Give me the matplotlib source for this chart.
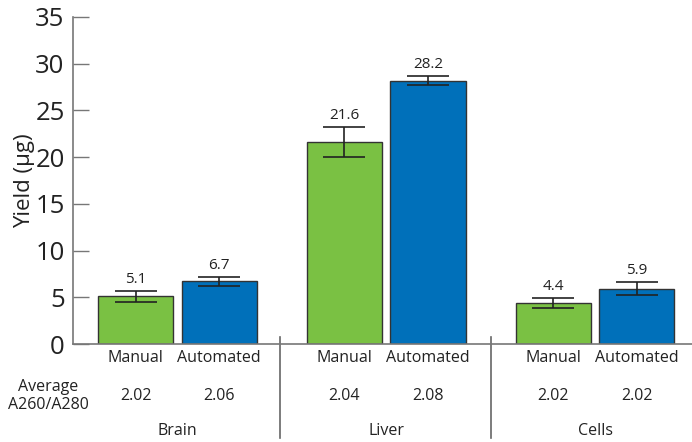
import matplotlib.pyplot as plt

plt.rcParams['font.family'] = ['Open Sans', 'DejaVu Sans']

groups = ["Brain", "Liver", "Cells"]
methods = ["Manual", "Automated"]
yields = [5.1, 6.7, 21.6, 28.2, 4.4, 5.9]
errors = [0.6, 0.5, 1.6, 0.5, 0.5, 0.7]
ratios = ["2.02", "2.06", "2.04", "2.08", "2.02", "2.02"]
positions = [0, 1, 2.5, 3.5, 5, 6]
colors = ["#7ac143", "#0070ba"] * 3

fig = plt.figure(figsize=(6.92, 4.42), dpi=100)
ax = fig.add_axes([73 / 692, 1 - 344 / 442, 1 - 73 / 692, 327 / 442])

ax.bar(positions, yields, width=0.9, color=colors, edgecolor="#333333", linewidth=1, zorder=2)
ax.errorbar(positions, yields, yerr=errors, fmt="none", ecolor="#222222",
            elinewidth=1.2, capsize=15, capthick=1.2, zorder=3)

for x, y, e in zip(positions, yields, errors):
    ax.annotate(f"{y}", (x, y + e), xytext=(0, 3), textcoords="offset points",
                ha="center", va="bottom", fontsize=11, color="#222222")

ax.set_xlim(-0.75, 6.66)
ax.set_ylim(0, 35)
ax.set_yticks(range(0, 36, 5))
ax.set_xticks([])
ax.tick_params(axis="y", direction="in", length=11.5, width=1, color="#777777",
               labelsize=18.5, labelcolor="#222222", pad=6)
for s in ["top", "right"]:
    ax.spines[s].set_visible(False)
for s in ["left", "bottom"]:
    ax.spines[s].set_color("#777777")
    ax.spines[s].set_linewidth(1.2)
ax.set_ylabel("Yield (µg)", fontsize=16, color="#222222", labelpad=0)

tr = ax.get_xaxis_transform()
for i, x in enumerate(positions):
    ax.text(x, -0.043, methods[i % 2], transform=tr, ha="center", va="center",
            fontsize=11.5, color="#222222")
    ax.text(x, -0.159, ratios[i], transform=tr, ha="center", va="center",
            fontsize=11.5, color="#222222")

ax.text(-1.05, -0.159, "Average\nA260/A280", transform=tr, ha="center", va="center",
        fontsize=11.5, color="#222222", linespacing=1.1)

for g, name in enumerate(groups):
    cx = (positions[2 * g] + positions[2 * g + 1]) / 2
    ax.text(cx, -0.266, name, transform=tr, ha="center", va="center",
            fontsize=11.5, color="#222222")

for dx in [1.73, 4.25]:
    ax.plot([dx, dx], [0.021, -0.287], transform=tr, color="#666666",
            linewidth=1.2, clip_on=False)

fig.savefig("out.png", dpi=100)
